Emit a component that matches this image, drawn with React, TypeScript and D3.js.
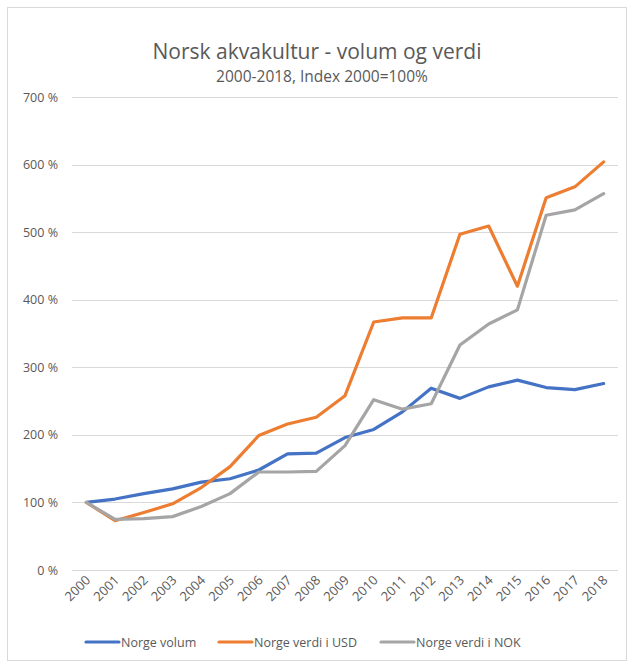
import React, { useEffect, useRef } from "react";
import * as d3 from "d3";

// data (Index 2000 = 100 %)
const years = [
  "2000", "2001", "2002", "2003", "2004", "2005", "2006", "2007", "2008", "2009",
  "2010", "2011", "2012", "2013", "2014", "2015", "2016", "2017", "2018",
];
const volum = [100, 105, 113, 120, 130, 135, 148, 172, 173, 196, 208, 234, 269, 254, 271, 281, 270, 267, 276];
const verdiUSD = [100, 73, 85, 98, 122, 153, 199, 216, 226, 258, 367, 373, 373, 497, 509, 420, 551, 567, 604];
const verdiNOK = [100, 75, 76, 79, 94, 113, 145, 145, 146, 184, 252, 238, 246, 333, 364, 385, 525, 533, 557];
const yTicks = [0, 100, 200, 300, 400, 500, 600, 700];

const seriesNames = ["Norge volum", "Norge verdi i USD", "Norge verdi i NOK"];
const seriesColors = ["#4472C4", "#ED7D31", "#A5A5A5"];

const W = 631;
const H = 665;
const FONT = "Open Sans, Calibri, sans-serif";

function App() {
  const ref = useRef<SVGSVGElement>(null);

  useEffect(() => {
    const svg = d3.select(ref.current);
    svg.selectAll("*").remove();

    // chart border
    svg
      .append("rect")
      .attr("x", 7.5)
      .attr("y", 7.5)
      .attr("width", 619)
      .attr("height", 653)
      .attr("fill", "#fff")
      .attr("stroke", "#d9d9d9");

    const x = d3.scaleBand().domain(years).range([72, 618]);
    const y = d3.scaleLinear().domain([0, 700]).range([570, 97]);

    // titles
    svg
      .append("text")
      .attr("x", 317)
      .attr("y", 59)
      .attr("text-anchor", "middle")
      .attr("fill", "#595959")
      .style("font-family", FONT)
      .style("font-size", "21px")
      .text("Norsk akvakultur - volum og verdi");
    svg
      .append("text")
      .attr("x", 322)
      .attr("y", 82)
      .attr("text-anchor", "middle")
      .attr("fill", "#595959")
      .style("font-family", FONT)
      .style("font-size", "15.5px")
      .text("2000-2018, Index 2000=100%");

    // gridlines + y labels
    const grid = svg.append("g");
    grid
      .selectAll("line")
      .data(yTicks)
      .enter()
      .append("line")
      .attr("x1", 72)
      .attr("x2", 618)
      .attr("y1", (d) => Math.round(y(d)) + 0.5)
      .attr("y2", (d) => Math.round(y(d)) + 0.5)
      .attr("stroke", "#d9d9d9")
      .attr("stroke-width", 1);
    grid
      .selectAll("text")
      .data(yTicks)
      .enter()
      .append("text")
      .attr("x", 58)
      .attr("y", (d) => y(d) + 4.5)
      .attr("text-anchor", "end")
      .attr("fill", "#595959")
      .style("font-family", FONT)
      .style("font-size", "12.5px")
      .text((d) => d + " %");

    // x labels, rotated
    svg
      .append("g")
      .selectAll("text")
      .data(years)
      .enter()
      .append("text")
      .attr(
        "transform",
        (d) => "translate(" + (x(d)! + x.bandwidth() / 2 + 5) + ",581)rotate(-45)"
      )
      .attr("text-anchor", "end")
      .attr("fill", "#595959")
      .style("font-family", FONT)
      .style("font-size", "13px")
      .text((d) => d);

    // lines
    const allSeries = [volum, verdiUSD, verdiNOK];
    const line = d3
      .line<number>()
      .x((_, i) => x(years[i])! + x.bandwidth() / 2)
      .y((d) => y(d));
    allSeries.forEach((s, i) => {
      svg
        .append("path")
        .datum(s)
        .attr("d", line)
        .attr("fill", "none")
        .attr("stroke", seriesColors[i])
        .attr("stroke-width", 3.2)
        .attr("stroke-linejoin", "round")
        .attr("stroke-linecap", "round");
    });

    // legend
    const legendX = [86, 219, 381];
    const lg = svg.append("g");
    seriesNames.forEach((name, i) => {
      lg.append("line")
        .attr("x1", legendX[i])
        .attr("x2", legendX[i] + 33)
        .attr("y1", 642)
        .attr("y2", 642)
        .attr("stroke", seriesColors[i])
        .attr("stroke-width", 3.2)
        .attr("stroke-linecap", "round");
      lg.append("text")
        .attr("x", legendX[i] + 35)
        .attr("y", 646.5)
        .attr("fill", "#595959")
        .style("font-family", FONT)
        .style("font-size", "12.5px")
        .text(name);
    });
  }, []);

  return (
    <svg
      ref={ref}
      width={W}
      height={H}
      style={{ display: "block", position: "absolute", left: 0, top: 0 }}
    />
  );
}

export default App;
